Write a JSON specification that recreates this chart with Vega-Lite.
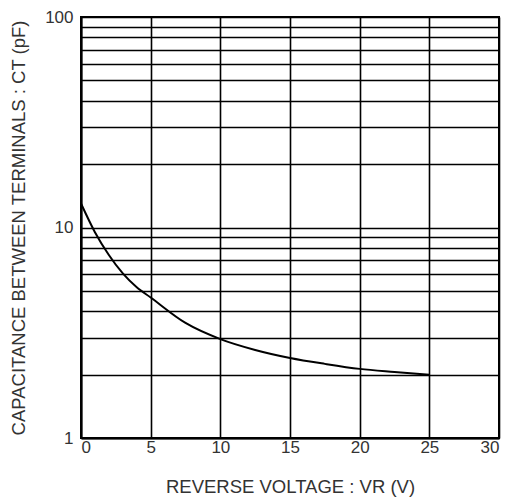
{
  "$schema": "https://vega.github.io/schema/vega-lite/v6.json",
  "width": 418,
  "height": 421,
  "autosize": {"type": "none"},
  "padding": {"left": 81, "top": 17, "right": 9, "bottom": 66},
  "background": "white",
  "config": {
    "view": {"stroke": "black", "strokeWidth": 2},
    "font": "Liberation Sans",
    "axis": {
      "labelFont": "Liberation Sans",
      "titleFont": "Liberation Sans",
      "labelFontSize": 17,
      "titleFontSize": 18.5,
      "titleFontWeight": "normal",
      "labelColor": "#333",
      "titleColor": "#333",
      "grid": true,
      "gridColor": "black",
      "gridOpacity": 1,
      "gridWidth": 1.6,
      "ticks": false,
      "domainColor": "black",
      "domainWidth": 2
    }
  },
  "data": {
    "values": [
      {"v": 0, "c": 13.0},
      {"v": 1, "c": 9.5},
      {"v": 2, "c": 7.4},
      {"v": 3, "c": 6.05},
      {"v": 4, "c": 5.2},
      {"v": 5, "c": 4.65},
      {"v": 7.5, "c": 3.52},
      {"v": 10, "c": 2.95},
      {"v": 12.5, "c": 2.62},
      {"v": 15, "c": 2.4},
      {"v": 17.5, "c": 2.25},
      {"v": 20, "c": 2.13},
      {"v": 22.5, "c": 2.06},
      {"v": 25, "c": 2.0}
    ]
  },
  "mark": {"type": "line", "color": "black", "strokeWidth": 2, "interpolate": "monotone"},
  "encoding": {
    "x": {
      "field": "v",
      "type": "quantitative",
      "scale": {"domain": [0, 30], "nice": false},
      "axis": {
        "values": [0, 5, 10, 15, 20, 25, 30],
        "title": "REVERSE  VOLTAGE : VR (V)",
        "labelPadding": 1,
        "titlePadding": 22
      }
    },
    "y": {
      "field": "c",
      "type": "quantitative",
      "scale": {"type": "log", "domain": [1, 100], "nice": false},
      "axis": {
        "values": [1, 2, 3, 4, 5, 6, 7, 8, 9, 10, 20, 30, 40, 50, 60, 70, 80, 90, 100],
        "format": "d",
        "labelExpr": "datum.value == 1 || datum.value == 10 || datum.value == 100 ? datum.label : ''",
        "title": "CAPACITANCE BETWEEN TERMINALS : CT (pF)",
        "labelPadding": 8,
        "titlePadding": 16
      }
    }
  }
}
